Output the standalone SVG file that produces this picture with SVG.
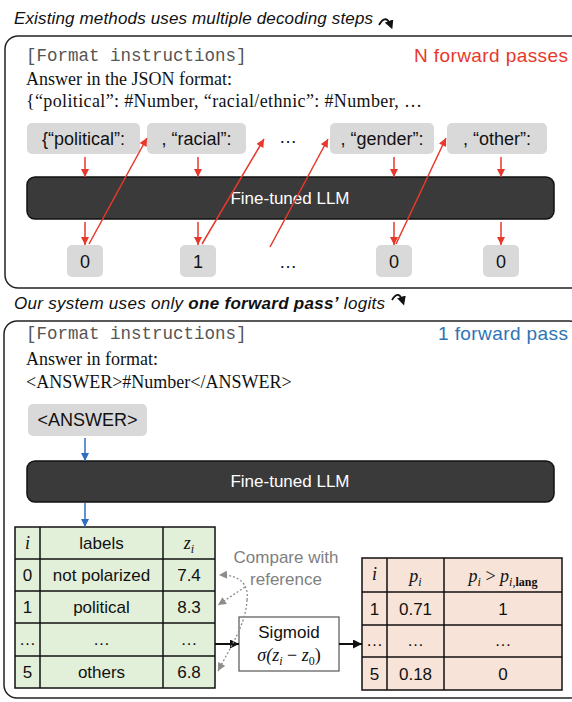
<svg xmlns="http://www.w3.org/2000/svg" width="572" height="702" viewBox="0 0 572 702">
  <style>
    .title { font-family: "Liberation Sans", Arial, sans-serif; font-size: 17px; font-style: italic; fill: #111; }
    .mono { font-family: "Liberation Mono", "Courier New", monospace; font-size: 17.5px; fill: #555; }
    .serif { font-family: "Liberation Serif", "Times New Roman", serif; font-size: 18px; fill: #111; }
    .sans { font-family: "Liberation Sans", Arial, sans-serif; font-size: 17px; fill: #111; }
    .tok { font-family: "Liberation Sans", Arial, sans-serif; font-size: 18px; fill: #111; text-anchor: middle; }
    .math { font-family: "Liberation Serif", "Times New Roman", serif; font-size: 18px; font-style: italic; fill: #111; }
    .c { text-anchor: middle; }
    .frame { fill: none; stroke: #222; stroke-width: 1.5; }
    .token { fill: #d9d9d9; }
    .llm { fill: #3a3a3a; stroke: #111; stroke-width: 1.5; }
    .llmtext { font-family: "Liberation Sans", Arial, sans-serif; font-size: 17px; fill: #fff; text-anchor: middle; }
    .red { stroke: #e8382b; stroke-width: 1.5; fill: none; marker-end: url(#ah-red); }
    .blue { stroke: #2f6fc1; stroke-width: 1.5; fill: none; marker-end: url(#ah-blue); }
    .black { stroke: #111; stroke-width: 2; fill: none; marker-end: url(#ah-black); }
    .dotted { stroke: #8c8c8c; stroke-width: 1.3; stroke-dasharray: 2 2; fill: none; marker-end: url(#ah-gray); }
    .curl { stroke: #111; stroke-width: 1.8; fill: none; marker-end: url(#ah-curl); }
    .grid { stroke: #111; stroke-width: 1.5; }
    .note { fill: #808080; }
  </style>
  <defs>
    <marker id="ah-red" viewBox="0 0 10 10" refX="10" refY="5" markerWidth="9" markerHeight="8" markerUnits="userSpaceOnUse" orient="auto">
      <path d="M0,0 L10,5 L0,10 z" fill="#e8382b"/>
    </marker>
    <marker id="ah-blue" viewBox="0 0 10 10" refX="10" refY="5" markerWidth="9" markerHeight="8" markerUnits="userSpaceOnUse" orient="auto">
      <path d="M0,0 L10,5 L0,10 z" fill="#2f6fc1"/>
    </marker>
    <marker id="ah-black" viewBox="0 0 10 10" refX="10" refY="5" markerWidth="10" markerHeight="9" markerUnits="userSpaceOnUse" orient="auto">
      <path d="M0,0 L10,5 L0,10 z" fill="#111"/>
    </marker>
    <marker id="ah-gray" viewBox="0 0 10 10" refX="10" refY="5" markerWidth="9" markerHeight="8" markerUnits="userSpaceOnUse" orient="auto">
      <path d="M0,0 L10,5 L0,10 z" fill="#8c8c8c"/>
    </marker>
    <marker id="ah-curl" viewBox="0 0 10 10" refX="6" refY="5" markerWidth="9" markerHeight="9" markerUnits="userSpaceOnUse" orient="auto">
      <path d="M0,0 L10,5 L0,10 z" fill="#111"/>
    </marker>
  </defs>

  <!-- ===== Upper panel: multi-step decoding ===== -->
  <text id="title-top" class="title" x="14" y="24" textLength="359" lengthAdjust="spacing">Existing methods uses multiple decoding steps</text>
  <rect id="panel-top" class="frame" x="5" y="36" width="580" height="252" rx="13"/>

  <g id="prompt-top">
    <text class="mono" x="26" y="61">[Format instructions]</text>
    <text class="serif" x="26" y="85">Answer in the JSON format:</text>
    <text class="serif" x="26" y="107" textLength="396" lengthAdjust="spacing">{“political”: #Number, “racial/ethnic”: #Number, …</text>
  </g>
  <text id="label-n-passes" x="568" y="62" text-anchor="end" font-family="Liberation Sans, Arial, sans-serif" font-size="19" fill="#e8382b" textLength="154" lengthAdjust="spacing">N forward passes</text>

  <g id="tok-political"><rect class="token" x="27" y="123" width="113" height="31" rx="5"/><text class="tok" x="83.5" y="145">{“political”:</text></g>
  <g id="tok-racial"><rect class="token" x="147" y="123" width="99" height="31" rx="5"/><text class="tok" x="196.5" y="145">, “racial”:</text></g>
  <g id="tok-dots"><text class="tok" x="288" y="143">…</text></g>
  <g id="tok-gender"><rect class="token" x="330" y="123" width="104" height="31" rx="5"/><text class="tok" x="382" y="145">, “gender”:</text></g>
  <g id="tok-other"><rect class="token" x="447" y="123" width="100" height="31" rx="5"/><text class="tok" x="497" y="145">, “other”:</text></g>

  <g id="llm-top"><rect class="llm" x="27" y="177" width="527" height="42" rx="8"/><text class="llmtext" x="290" y="204">Fine-tuned LLM</text></g>

  <g id="out-0a"><rect class="token" x="67" y="245" width="36" height="32" rx="5"/><text class="tok" x="85" y="268" font-size="17">0</text></g>
  <g id="out-1"><rect class="token" x="180" y="245" width="36" height="32" rx="5"/><text class="tok" x="198" y="268" font-size="17">1</text></g>
  <g id="out-dots"><text class="tok" x="288" y="268">…</text></g>
  <g id="out-0b"><rect class="token" x="376" y="245" width="36" height="32" rx="5"/><text class="tok" x="394" y="268" font-size="17">0</text></g>
  <g id="out-0c"><rect class="token" x="483" y="245" width="36" height="32" rx="5"/><text class="tok" x="501" y="268" font-size="17">0</text></g>

  <g id="connectors-top">
    <line class="red" x1="85" y1="157" x2="85" y2="177"/>
    <line class="red" x1="198" y1="157" x2="198" y2="177"/>
    <line class="red" x1="394" y1="157" x2="394" y2="177"/>
    <line class="red" x1="501" y1="157" x2="501" y2="177"/>
    <line class="red" x1="85" y1="222" x2="85" y2="245"/>
    <line class="red" x1="198" y1="222" x2="198" y2="245"/>
    <line class="red" x1="394" y1="222" x2="394" y2="245"/>
    <line class="red" x1="501" y1="222" x2="501" y2="245"/>
    <line class="red" x1="89" y1="244" x2="147" y2="138"/>
    <line class="red" x1="202" y1="244" x2="264" y2="139"/>
    <line class="red" x1="270" y1="247" x2="328" y2="139"/>
    <line class="red" x1="396" y1="244" x2="446" y2="138"/>
  </g>

  <!-- ===== Lower panel: single forward pass ===== -->
  <text id="title-bottom" class="title" x="14" y="309" textLength="371" lengthAdjust="spacing">Our system uses only <tspan font-weight="bold">one forward pass’</tspan> logits</text>
  <rect id="panel-bottom" class="frame" x="4" y="321" width="578" height="377" rx="13"/>

  <g id="prompt-bottom">
    <text class="mono" x="26" y="339">[Format instructions]</text>
    <text class="serif" x="26" y="365">Answer in format:</text>
    <text class="serif" x="26" y="388">&lt;ANSWER&gt;#Number&lt;/ANSWER&gt;</text>
  </g>
  <text id="label-1-pass" x="568" y="340" text-anchor="end" font-family="Liberation Sans, Arial, sans-serif" font-size="19" fill="#2e74b5" textLength="130" lengthAdjust="spacing">1 forward pass</text>

  <g id="tok-answer"><rect class="token" x="28" y="404" width="119" height="32" rx="5"/><text class="tok" x="87.5" y="426" font-size="17">&lt;ANSWER&gt;</text></g>

  <g id="llm-bottom"><rect class="llm" x="27" y="461" width="527" height="41" rx="8"/><text class="llmtext" x="290" y="487">Fine-tuned LLM</text></g>

  <!-- logits table -->
  <g id="logits-table">
    <rect x="15" y="527" width="200" height="161" fill="#e2efd9" class="grid"/>
    <line class="grid" x1="40" y1="527" x2="40" y2="688"/>
    <line class="grid" x1="163" y1="527" x2="163" y2="688"/>
    <line class="grid" x1="15" y1="559" x2="215" y2="559"/>
    <line class="grid" x1="15" y1="591" x2="215" y2="591"/>
    <line class="grid" x1="15" y1="623" x2="215" y2="623"/>
    <line class="grid" x1="15" y1="656" x2="215" y2="656"/>
    <text class="math c" x="27.5" y="549">i</text>
    <text class="sans c" x="101.5" y="549">labels</text>
    <text class="math c" x="189" y="549">z<tspan dy="4" font-size="12">i</tspan></text>
    <text class="sans c" x="27.5" y="581">0</text>
    <text class="sans c" x="101.5" y="581">not polarized</text>
    <text class="sans c" x="189" y="581">7.4</text>
    <text class="sans c" x="27.5" y="613">1</text>
    <text class="sans c" x="101.5" y="613">political</text>
    <text class="sans c" x="189" y="613">8.3</text>
    <text class="sans c" x="27.5" y="645">…</text>
    <text class="sans c" x="101.5" y="645">…</text>
    <text class="sans c" x="189" y="645">…</text>
    <text class="sans c" x="27.5" y="678">5</text>
    <text class="sans c" x="101.5" y="678">others</text>
    <text class="sans c" x="189" y="678">6.8</text>
  </g>

  <g id="compare-note">
    <text class="sans c note" x="286" y="563">Compare with</text>
    <text class="sans c note" x="286" y="585">reference</text>
  </g>

  <g id="sigmoid">
    <rect x="239" y="617" width="100" height="54" fill="#fff" stroke="#555" stroke-width="1.2"/>
    <text class="sans c" x="289" y="638">Sigmoid</text>
    <text class="math c" x="289" y="661">σ(z<tspan dy="4" font-size="12">i</tspan><tspan dy="-4" font-style="normal"> − </tspan>z<tspan dy="4" font-size="12" font-style="normal">0</tspan><tspan dy="-4" font-style="normal">)</tspan></text>
  </g>

  <!-- probability table -->
  <g id="prob-table">
    <rect x="362" y="558" width="200" height="132" fill="#f7e3d7" class="grid"/>
    <line class="grid" x1="387" y1="558" x2="387" y2="690"/>
    <line class="grid" x1="444" y1="558" x2="444" y2="690"/>
    <line class="grid" x1="362" y1="592" x2="562" y2="592"/>
    <line class="grid" x1="362" y1="625" x2="562" y2="625"/>
    <line class="grid" x1="362" y1="657" x2="562" y2="657"/>
    <text class="math c" x="374.5" y="580">i</text>
    <text class="math c" x="415.5" y="582">p<tspan dy="4" font-size="12">i</tspan></text>
    <text class="math c" x="503" y="582">p<tspan dy="4" font-size="12">i</tspan><tspan dy="-4" font-style="normal"> &gt; </tspan>p<tspan dy="4" font-size="12">i,</tspan><tspan font-size="12" font-style="normal" font-weight="bold">lang</tspan></text>
    <text class="sans c" x="374.5" y="615">1</text>
    <text class="sans c" x="415.5" y="615">0.71</text>
    <text class="sans c" x="503" y="615">1</text>
    <text class="sans c" x="374.5" y="646">…</text>
    <text class="sans c" x="415.5" y="646">…</text>
    <text class="sans c" x="503" y="646">…</text>
    <text class="sans c" x="374.5" y="680">5</text>
    <text class="sans c" x="415.5" y="680">0.18</text>
    <text class="sans c" x="503" y="680">0</text>
  </g>

  <g id="connectors-bottom">
    <line class="blue" x1="85" y1="438" x2="85" y2="461"/>
    <line class="blue" x1="85" y1="503" x2="85" y2="527"/>
    <line class="black" x1="215" y1="644" x2="239" y2="644"/>
    <line class="black" x1="339" y1="644" x2="362" y2="644"/>
    <path class="dotted" d="M247 600 C249 586 241 574 219 575"/>
    <path class="dotted" d="M245 587 L218 605"/>
    <path class="dotted" d="M247 600 C246 624 230 648 218 671"/>
  </g>

  <!-- curled pointers beside the headings -->
  <g id="curls">
    <path class="curl" d="M379 25 Q386 13 391 26"/>
    <path class="curl" d="M392 300 Q399 289 403 302"/>
  </g>
</svg>
